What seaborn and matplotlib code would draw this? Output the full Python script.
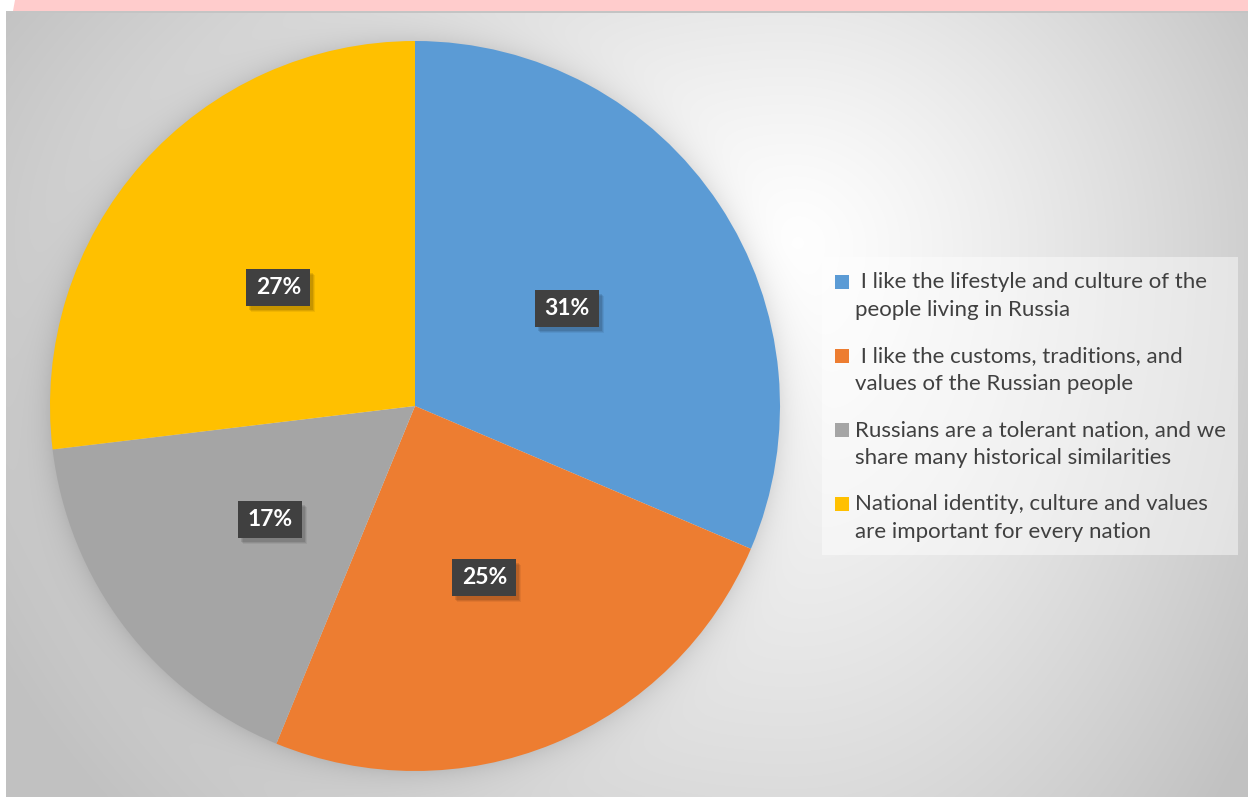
import numpy as np
import matplotlib
matplotlib.use("Agg")
import matplotlib.pyplot as plt
from matplotlib.patches import Rectangle, Polygon
from matplotlib.transforms import IdentityTransform
import seaborn as sns

sns.set_theme(style="white")
plt.rcParams['font.family'] = ['Lato', 'DejaVu Sans']

# ---- data ----
categories = [
    " I like the lifestyle and culture of the\npeople living in Russia",
    " I like the customs, traditions, and\nvalues of the Russian people",
    "Russians are a tolerant nation, and we\nshare many historical similarities",
    "National identity, culture and values\nare important for every nation",
]
values = [31.4, 24.8, 16.9, 26.9]
colors = ["#5B9BD5", "#ED7D31", "#A5A5A5", "#FFC000"]

W, H = 1248, 797
fig = plt.figure(figsize=(W / 100, H / 100), dpi=100)
fig.patch.set_facecolor("white")

def px(x, y, w, h):
    """pixel rect (top-left origin) -> figure fraction rect"""
    return [x / W, 1 - (y + h) / H, w / W, h / H]

cx, cy, R = 415, 406, 365

# ---- background gradient (chart area) with soft pie shadow ----
bx0, by0 = 6, 12
bg = fig.add_axes(px(bx0, by0, W - bx0, H - by0))
yy, xx = np.mgrid[by0:H, bx0:W].astype(float)
dx = xx - 790
dy = yy - 245
sx = np.where(dx > 0, 560.0, 900.0)
sy = np.where(dy > 0, 850.0, 520.0)
dn = np.clip(np.sqrt((dx / sx) ** 2 + (dy / sy) ** 2), 0, 1)
val = 1.0 - 0.24 * dn ** 1.25
rp = np.sqrt((xx - cx) ** 2 + (yy - cy) ** 2)
val = val - 0.09 * np.exp(-np.clip(rp - R, 0, None) / 14.0) * (rp > R - 2)
bg.imshow(np.dstack([val, val, val]), aspect="auto", extent=[0, 1, 0, 1],
          interpolation="bilinear")
bg.set_axis_off()

# top pink band and border line
fig.add_artist(Polygon([[15 / W, 1], [1, 1], [1, 1 - 11 / H], [13 / W, 1 - 11 / H]],
                       closed=True, transform=fig.transFigure,
                       facecolor="#FFCCCC", edgecolor="none"))
fig.add_artist(Rectangle((bx0 / W, 1 - 12.5 / H), 1, 1.5 / H, transform=fig.transFigure,
                         facecolor="#C4C4C4", edgecolor="none"))

# ---- pie ----
ax = fig.add_axes(px(cx - R, cy - R, 2 * R, 2 * R))
ax.set_facecolor("none")
wedges, _, autotexts = ax.pie(values, colors=colors, startangle=90, counterclock=False,
                              autopct="%1.0f%%", pctdistance=0.5,
                              wedgeprops=dict(linewidth=0),
                              textprops=dict(color="white", fontsize=16, fontweight="bold"))
ax.set_xlim(-1, 1); ax.set_ylim(-1, 1)
ax.set_aspect("equal")

# data label boxes (dark, with soft drop shadow)
bw, bh = 64, 37
for t in autotexts:
    x, y = ax.transData.transform(t.get_position())
    y -= 3
    for k, a in [(6, 0.06), (5, 0.08), (4, 0.10)]:
        fig.add_artist(Rectangle((x - bw / 2 + k - 1, y - bh / 2 - k), bw, bh,
                                 transform=IdentityTransform(), facecolor="black",
                                 alpha=a, edgecolor="none", zorder=3))
    fig.add_artist(Rectangle((x - bw / 2, y - bh / 2), bw, bh,
                             transform=IdentityTransform(), facecolor="#404040",
                             edgecolor="none", zorder=4))
    t.remove()
    fig.text(x / W, y / H, t.get_text(), ha="center", va="center", color="white",
             fontsize=16.5, fontweight="bold", zorder=6)

# ---- legend (manual, to align squares with the first line) ----
fig.add_artist(Rectangle((822 / W, 1 - 555 / H), (1238 - 822) / W, (555 - 257) / H,
                         transform=fig.transFigure, facecolor="white", alpha=0.45,
                         edgecolor="none"))
base0, step, lh = 288, 74, 28
for i, (lab, c) in enumerate(zip(categories, colors)):
    b = base0 + i * step
    fig.add_artist(Rectangle((835 / W, 1 - (b + 0.5) / H), 14 / W, 14 / H,
                             transform=fig.transFigure, facecolor=c, edgecolor="none"))
    for j, line in enumerate(lab.split("\n")):
        fig.text(855 / W, 1 - (b + j * lh) / H, line, ha="left", va="baseline",
                 fontsize=16, color="#404040")

fig.savefig("out.png", dpi=100)
